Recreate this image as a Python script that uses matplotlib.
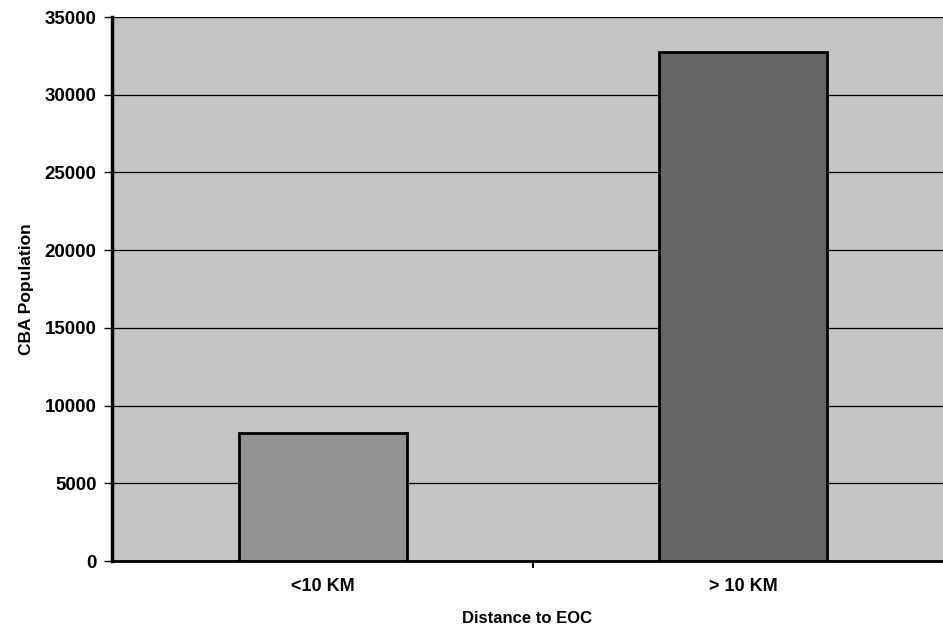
import numpy as np
import matplotlib.pyplot as plt

# --- chart data ---
categories = ['<10 KM', '> 10 KM']
population = [8250, 32750]
y_ticks = [0, 5000, 10000, 15000, 20000, 25000, 30000, 35000]

plt.rcParams['font.family'] = ['Liberation Sans', 'DejaVu Sans']

fig = plt.figure(figsize=(9.43, 6.36), dpi=100)
ax = fig.add_axes([112/943, 75/636, 831/943, 544/636])

x = np.arange(len(categories))
ax.set_facecolor('#c4c4c4')
ax.bar(x, population, width=0.4, color=['#939393', '#646464'],
       edgecolor='black', linewidth=2, zorder=3)

ax.set_xlim(-211/420, 1 + 200/420)
ax.set_ylim(0, 35000)
ax.set_yticks(y_ticks)
ax.set_yticklabels([str(v) for v in y_ticks], fontsize=13.5, fontweight='bold')
ax.yaxis.grid(True, color='black', lw=0.9, zorder=1)
ax.set_axisbelow(True)

ax.set_xticks(x)
ax.set_xticklabels(categories, fontsize=13, fontweight='bold')
ax.set_xticks([0.5], minor=True)
ax.tick_params(axis='x', which='major', length=0, pad=12)
ax.tick_params(axis='x', which='minor', length=5, width=1.5, direction='out')
ax.tick_params(axis='y', length=6, width=1, direction='out', pad=5)

for s in ['top', 'right']:
    ax.spines[s].set_visible(False)
ax.spines['left'].set_linewidth(2.5)
ax.spines['bottom'].set_linewidth(2)

ax.set_ylabel('CBA Population', fontsize=12.5, fontweight='bold', labelpad=8)
ax.set_xlabel('Distance to EOC', fontsize=12, fontweight='bold', labelpad=12)

fig.savefig('out.png', dpi=100)
